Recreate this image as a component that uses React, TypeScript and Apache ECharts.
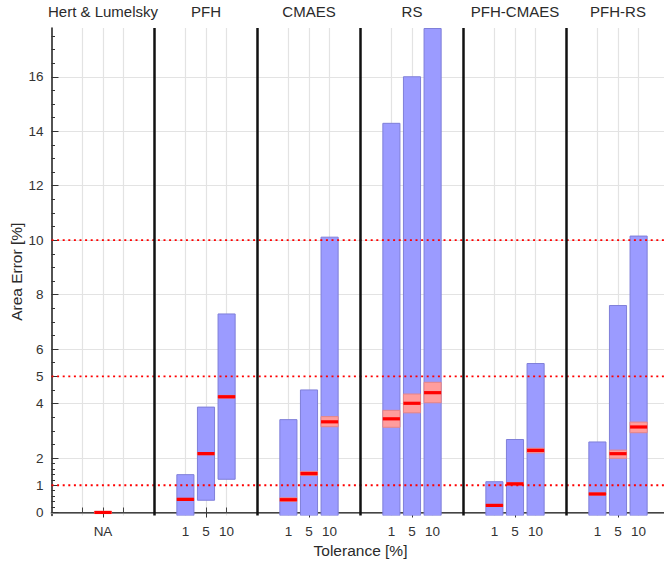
import React, { useEffect, useRef } from 'react';
import * as echarts from 'echarts';

// ---- categories ----
const groups = ['Hert & Lumelsky', 'PFH', 'CMAES', 'RS', 'PFH-CMAES', 'PFH-RS'];
const tolerances = ['1', '5', '10'];
const naLabel = 'NA';
const slotsPerGroup = 5;

// ---- y axis ticks ----
const yMajorTicks = [0, 1, 2, 4, 5, 6, 8, 10, 12, 14, 16];
const yMinorTicks = [0.2, 0.4, 0.6, 0.8, 1.2, 1.4, 1.6, 1.8, 2.5, 3, 3.5, 4.5, 5.5, 6.5, 7, 7.5, 8.5, 9, 9.5,
  10.5, 11, 11.5, 12.5, 13, 13.5, 14.5, 15, 15.5, 16.5, 17, 17.5];
const yGridLines = [0, 2, 4, 6, 8, 10, 12, 14, 16];
const thresholds = [1, 5, 10];
const yMin = -0.11;
const yMax = 17.79;

// ---- series values (per tolerance 1, 5, 10) ----
// Hert & Lumelsky: only NA
const hertMedian = [0];
const hertCiLow = [-0.04];
const hertCiHigh = [0.05];

const pfhMin = [-0.11, 0.45, 1.22];
const pfhMax = [1.39, 3.87, 7.29];
const pfhMedian = [0.48, 2.16, 4.25];
const pfhCiLow = [0.44, 2.12, 4.2];
const pfhCiHigh = [0.52, 2.2, 4.3];

const cmaesMin = [-0.11, -0.11, -0.11];
const cmaesMax = [3.41, 4.5, 10.11];
const cmaesMedian = [0.47, 1.43, 3.33];
const cmaesCiLow = [0.41, 1.36, 3.15];
const cmaesCiHigh = [0.54, 1.51, 3.52];

const rsMin = [-0.11, -0.11, -0.11];
const rsMax = [14.29, 16.0, 18.5];
const rsMedian = [3.44, 4.01, 4.4];
const rsCiLow = [3.13, 3.66, 4.03];
const rsCiHigh = [3.75, 4.35, 4.78];

const pfhCmaesMin = [-0.11, -0.11, -0.11];
const pfhCmaesMax = [1.13, 2.68, 5.47];
const pfhCmaesMedian = [0.26, 1.05, 2.28];
const pfhCmaesCiLow = [0.22, 1.01, 2.19];
const pfhCmaesCiHigh = [0.3, 1.09, 2.36];

const pfhRsMin = [-0.11, -0.11, -0.11];
const pfhRsMax = [2.59, 7.6, 10.15];
const pfhRsMedian = [0.68, 2.16, 3.14];
const pfhRsCiLow = [0.64, 1.99, 2.93];
const pfhRsCiHigh = [0.72, 2.29, 3.32];

const algoSeries = [
  { min: pfhMin, max: pfhMax, median: pfhMedian, ciLow: pfhCiLow, ciHigh: pfhCiHigh },
  { min: cmaesMin, max: cmaesMax, median: cmaesMedian, ciLow: cmaesCiLow, ciHigh: cmaesCiHigh },
  { min: rsMin, max: rsMax, median: rsMedian, ciLow: rsCiLow, ciHigh: rsCiHigh },
  { min: pfhCmaesMin, max: pfhCmaesMax, median: pfhCmaesMedian, ciLow: pfhCmaesCiLow, ciHigh: pfhCmaesCiHigh },
  { min: pfhRsMin, max: pfhRsMax, median: pfhRsMedian, ciLow: pfhRsCiLow, ciHigh: pfhRsCiHigh },
];

const FONT = "'Liberation Sans', Arial, Helvetica, sans-serif";

export default function App() {
  const ref = useRef<HTMLDivElement>(null);

  useEffect(() => {
    if (!ref.current) return;
    const chart = echarts.init(ref.current, undefined, { renderer: 'svg' });

    const nGroups = groups.length;
    const xMax = nGroups * slotsPerGroup;
    // slot centre of tolerance t in group g
    const slotX = (g: number, t: number) => g * slotsPerGroup + 1.5 + t;
    const groupCenters = groups.map((_, g) => g * slotsPerGroup + slotsPerGroup / 2);
    const separators = groups.slice(1).map((_, i) => (i + 1) * slotsPerGroup);

    const xTicks: number[] = [];
    groups.forEach((_, g) => tolerances.forEach((__, t) => xTicks.push(slotX(g, t))));

    const labelMap: Record<string, string> = {};
    const labelXs: number[] = [];
    labelMap[groupCenters[0].toFixed(2)] = naLabel;
    labelXs.push(groupCenters[0]);
    for (let g = 1; g < nGroups; g++) {
      tolerances.forEach((tol, t) => {
        labelMap[slotX(g, t).toFixed(2)] = tol;
        labelXs.push(slotX(g, t));
      });
    }

    // bar data rows: [x, min, max, median, ciLow, ciHigh]
    const barData: number[][] = [];
    hertMedian.forEach((m, i) => {
      barData.push([groupCenters[0], 0, 0, m, hertCiLow[i], hertCiHigh[i]]);
    });
    algoSeries.forEach((s, k) => {
      const g = k + 1;
      tolerances.forEach((_, t) => {
        barData.push([slotX(g, t), s.min[t], s.max[t], s.median[t], s.ciLow[t], s.ciHigh[t]]);
      });
    });

    const option: any = {
      animation: false,
      backgroundColor: '#ffffff',
      textStyle: { fontFamily: FONT },
      grid: { left: 51.5, right: -5.5, top: 28, bottom: 49.5, containLabel: false, outerBoundsMode: 'none' },
      xAxis: [
        {
          type: 'value',
          min: 0,
          max: xMax,
          position: 'bottom',
          axisLine: { show: true, lineStyle: { color: '#8a8a8a', width: 2 } },
          axisTick: { show: true, inside: true, length: 5, customValues: xTicks, lineStyle: { color: '#444', width: 1 } },
          axisLabel: {
            show: true,
            customValues: labelXs,
            formatter: (v: number) => labelMap[Number(v).toFixed(2)] ?? '',
            fontSize: 13.5,
            color: '#333',
            margin: 9,
            fontFamily: FONT,
          },
          splitLine: { show: true, lineStyle: { color: '#e3e3e3', width: 1.2 } },
          name: 'Tolerance [%]',
          nameLocation: 'middle',
          nameGap: 27,
          nameMoveOverlap: false,
          nameTextStyle: { fontSize: 15.5, color: '#2a2a2a', fontFamily: FONT },
        },
        {
          type: 'value',
          min: 0,
          max: xMax,
          position: 'top',
          axisLine: { show: true, lineStyle: { color: '#444', width: 1 } },
          axisTick: { show: true, inside: true, length: 5, customValues: groupCenters, lineStyle: { color: '#333', width: 1 } },
          axisLabel: {
            show: true,
            customValues: groupCenters,
            formatter: (v: number) => groups[Math.round((v - slotsPerGroup / 2) / slotsPerGroup)] ?? '',
            fontSize: 15,
            color: '#2a2a2a',
            margin: 9,
            fontFamily: FONT,
          },
          splitLine: { show: false },
        },
      ],
      yAxis: [
        {
          type: 'value',
          min: yMin,
          max: yMax,
          position: 'left',
          axisLine: { show: true, lineStyle: { color: '#1a1a1a', width: 1.5 } },
          axisTick: { show: true, inside: true, length: 7, customValues: yMajorTicks, lineStyle: { color: '#333', width: 1 } },
          axisLabel: { show: true, customValues: yMajorTicks, fontSize: 13.5, color: '#333', margin: 8, fontFamily: FONT },
          splitLine: { show: false },
          name: 'Area Error [%]',
          nameLocation: 'middle',
          nameGap: 27,
          nameMoveOverlap: false,
          nameTextStyle: { fontSize: 15.5, color: '#2a2a2a', fontFamily: FONT },
        },
        {
          type: 'value',
          min: yMin,
          max: yMax,
          position: 'left',
          axisLine: { show: false },
          axisTick: { show: true, inside: true, length: 3.5, customValues: yMinorTicks, lineStyle: { color: '#333', width: 1 } },
          axisLabel: { show: false },
          splitLine: { show: false },
        },
        {
          type: 'value',
          min: yMin,
          max: yMax,
          position: 'left',
          axisLine: { show: false },
          axisTick: { show: false, customValues: yGridLines },
          axisLabel: { show: false },
          splitLine: { show: true, lineStyle: { color: '#e3e3e3', width: 1.2 } },
        },
      ],
      series: [
        {
          type: 'custom',
          name: 'bars',
          xAxisIndex: 0,
          yAxisIndex: 0,
          z: 2,
          clip: true,
          data: barData,
          renderItem: (params: any, api: any) => {
            const cs = params.coordSys;
            const x = api.value(0);
            const lo = api.value(1);
            const hi = api.value(2);
            const med = api.value(3);
            const cl = api.value(4);
            const ch = api.value(5);
            const w = api.size([1, 0])[0] * 0.83;
            const children: any[] = [];
            if (hi > lo) {
              const pTop = api.coord([x, hi]);
              const pBot = api.coord([x, lo]);
              const yTop = Math.max(pTop[1], cs.y + 0.5);
              const yBot = Math.min(pBot[1], cs.y + cs.height);
              children.push({
                type: 'rect',
                shape: { x: pTop[0] - w / 2, y: yTop, width: w, height: yBot - yTop },
                style: { fill: '#9b9bff', stroke: '#7f7fd9', lineWidth: 1 },
              });
            }
            const c1 = api.coord([x, ch]);
            const c2 = api.coord([x, cl]);
            children.push({
              type: 'rect',
              shape: { x: c1[0] - w / 2, y: c1[1], width: w, height: c2[1] - c1[1] },
              style: { fill: '#ff9d9d', stroke: '#e88585', lineWidth: 1 },
            });
            const m = api.coord([x, med]);
            children.push({
              type: 'rect',
              shape: { x: m[0] - w / 2, y: m[1] - 1.6, width: w, height: 3.2 },
              style: { fill: '#ff0000' },
            });
            return { type: 'group', children };
          },
        },
        {
          type: 'custom',
          name: 'thresholds',
          xAxisIndex: 0,
          yAxisIndex: 0,
          z: 3,
          data: thresholds.map((v) => [v]),
          renderItem: (params: any, api: any) => {
            const cs = params.coordSys;
            const y = api.coord([0, api.value(0)])[1];
            return {
              type: 'line',
              shape: { x1: cs.x, y1: y, x2: cs.x + cs.width, y2: y },
              style: { stroke: '#ff0000', lineWidth: 1.8, lineDash: [2, 3.6] },
            };
          },
        },
        {
          type: 'custom',
          name: 'separators',
          xAxisIndex: 0,
          yAxisIndex: 0,
          z: 4,
          data: separators.map((v) => [v]),
          renderItem: (params: any, api: any) => {
            const cs = params.coordSys;
            const x = api.coord([api.value(0), 0])[0];
            return {
              type: 'line',
              shape: { x1: x, y1: cs.y, x2: x, y2: cs.y + cs.height },
              style: { stroke: '#111111', lineWidth: 2.5 },
            };
          },
        },
      ],
    };

    chart.setOption(option);
    return () => chart.dispose();
  }, []);

  return (
    <div
      ref={ref}
      style={{ position: 'fixed', left: 0, top: 0, width: 664, height: 565, background: '#fff' }}
    />
  );
}
